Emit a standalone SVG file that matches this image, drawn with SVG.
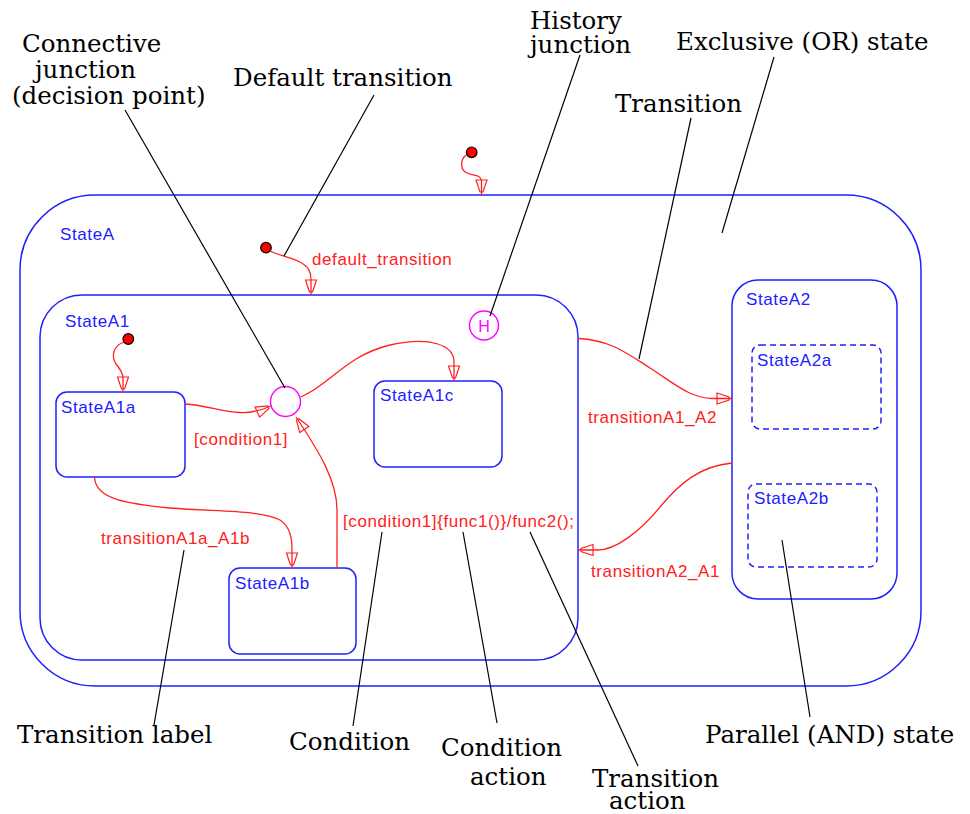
<svg xmlns="http://www.w3.org/2000/svg" width="970" height="814" viewBox="0 0 970 814">
  <style>
    .state { fill: none; stroke: #2020ff; stroke-width: 1.5; }
    .dashed { stroke-dasharray: 6 4; }
    .sname { font-family: "Liberation Sans", Arial, sans-serif; font-size: 17px; letter-spacing: 0.6px; fill: #2020ff; }
    .tlabel { font-family: "Liberation Sans", Arial, sans-serif; font-size: 17px; letter-spacing: 0.6px; fill: #ff2020; }
    .trans { fill: none; stroke: #ff2020; stroke-width: 1.3; marker-end: url(#arrow); }
    .dot { fill: #ff0000; stroke: #000; stroke-width: 1.2; }
    .junction { fill: none; stroke: #ff00ff; stroke-width: 1.4; }
    .callout { font-family: "DejaVu Serif", "Liberation Serif", serif; font-size: 24.5px; fill: #000; }
    .leader { fill: none; stroke: #000; stroke-width: 1.2; }
  </style>
  <defs>
    <!-- hollow Stateflow-style arrowhead, tip sits a few px before the path end -->
    <marker id="arrow" markerUnits="userSpaceOnUse" markerWidth="18" markerHeight="14" refX="16" refY="6" orient="auto" viewBox="0 0 18 12">
      <path d="M1,0.5 L13,4.5 L13,7.5 L1,11.5 Z" fill="none" stroke="#ff2020" stroke-width="1.2"/>
    </marker>
  </defs>

  <rect width="970" height="814" fill="#fff"/>

  <!-- states -->
  <g id="StateA">
    <rect class="state" x="20" y="195" width="901" height="491" rx="75" ry="75"/>
    <text class="sname" x="60" y="240">StateA</text>
  </g>
  <g id="StateA1">
    <rect class="state" x="40" y="295" width="538" height="365" rx="42" ry="42"/>
    <text class="sname" x="65" y="327">StateA1</text>
  </g>
  <g id="StateA1a">
    <rect class="state" x="56" y="392" width="129" height="85" rx="11" ry="11"/>
    <text class="sname" x="61" y="413">StateA1a</text>
  </g>
  <g id="StateA1b">
    <rect class="state" x="229" y="568" width="127" height="86" rx="11" ry="11"/>
    <text class="sname" x="235" y="589">StateA1b</text>
  </g>
  <g id="StateA1c">
    <rect class="state" x="374" y="381" width="128" height="86" rx="11" ry="11"/>
    <text class="sname" x="380" y="401">StateA1c</text>
  </g>
  <g id="StateA2">
    <rect class="state" x="732" y="280" width="165" height="319" rx="26" ry="26"/>
    <text class="sname" x="746" y="305">StateA2</text>
  </g>
  <g id="StateA2a">
    <rect class="state dashed" x="752" y="345" width="129" height="84" rx="8" ry="8"/>
    <text class="sname" x="757" y="366">StateA2a</text>
  </g>
  <g id="StateA2b">
    <rect class="state dashed" x="748" y="484" width="129" height="83" rx="8" ry="8"/>
    <text class="sname" x="754" y="504">StateA2b</text>
  </g>

  <!-- junctions -->
  <g id="ConnectiveJunction">
    <circle class="junction" cx="285.5" cy="401.5" r="15"/>
  </g>
  <g id="HistoryJunction">
    <circle class="junction" cx="484" cy="325.5" r="14.5"/>
    <text x="484" y="331.5" text-anchor="middle" font-family="Liberation Sans, Arial, sans-serif" font-size="16" fill="#ff00ff">H</text>
  </g>

  <!-- default transition sources -->
  <g id="DefaultDots">
    <circle class="dot" cx="471.7" cy="152.3" r="5.3"/>
    <circle class="dot" cx="266" cy="247.7" r="5.3"/>
    <circle class="dot" cx="128.3" cy="339" r="5.3"/>
  </g>

  <!-- transitions -->
  <g id="connectors">
    <path class="trans" d="M466,155 C460,160 460,170 467,173 C472,176 481,174 481.5,181 L481.5,195"/>
    <path class="trans" d="M270,251 C278,255 290,257 300,262 C309,267 311,272 311,280 L311,295"/>
    <path class="trans" d="M124,342 C113,346 111,356 116,364 C121,370 123,374 123,378 L123,392"/>
    <path class="trans" d="M185,404 C205,405 222,412 240,412.5 C252,413 262,410 271,406"/>
    <path class="trans" d="M301,397 C330,385 345,356 390,345 C430,336 454,345 454,362 L454,381"/>
    <path class="trans" d="M337,568 L337,510 C337,480 318,450 296,417"/>
    <path class="trans" d="M94.5,477 C95,500 130,504 170,508 C220,512 260,510 280,520 C291,527 292,540 292,550 L292,568"/>
    <path class="trans" d="M578,338.5 C610,340 625,352 650,368 C675,384 690,398 712,398.5 L732,398.5"/>
    <path class="trans" d="M732,463 C700,466 680,483 660,507 C640,532 615,550 598,550 L578,550"/>
  </g>

  <!-- transition labels -->
  <g id="TransitionLabels">
    <text class="tlabel" x="312" y="265">default_transition</text>
    <text class="tlabel" x="194" y="445">[condition1]</text>
    <text class="tlabel" x="101" y="544">transitionA1a_A1b</text>
    <text class="tlabel" x="343" y="527">[condition1]{func1()}/func2();</text>
    <text class="tlabel" x="588" y="423">transitionA1_A2</text>
    <text class="tlabel" x="591" y="577">transitionA2_A1</text>
  </g>

  <!-- annotation leaders -->
  <g id="leaders">
    <line class="leader" x1="125" y1="110" x2="285" y2="388"/>
    <line class="leader" x1="374" y1="95" x2="284" y2="256"/>
    <line class="leader" x1="580" y1="55" x2="490" y2="316"/>
    <line class="leader" x1="774" y1="57" x2="722" y2="233"/>
    <line class="leader" x1="691" y1="118" x2="639" y2="359"/>
    <line class="leader" x1="184" y1="550" x2="154" y2="725"/>
    <line class="leader" x1="382" y1="532" x2="353" y2="726"/>
    <line class="leader" x1="463" y1="532" x2="497" y2="723"/>
    <line class="leader" x1="530" y1="532" x2="638" y2="766"/>
    <line class="leader" x1="782" y1="540" x2="810" y2="717"/>
  </g>

  <!-- annotation texts -->
  <g id="annotations">
    <text class="callout" x="22" y="52">Connective</text>
    <text class="callout" x="35" y="78">junction</text>
    <text class="callout" x="12" y="104">(decision point)</text>
    <text class="callout" x="233" y="86">Default transition</text>
    <text class="callout" x="530" y="29">History</text>
    <text class="callout" x="530" y="53">junction</text>
    <text class="callout" x="676" y="50">Exclusive (OR) state</text>
    <text class="callout" x="615" y="112">Transition</text>
    <text class="callout" x="17" y="743">Transition label</text>
    <text class="callout" x="289" y="750">Condition</text>
    <text class="callout" x="441" y="756">Condition</text>
    <text class="callout" x="470" y="785">action</text>
    <text class="callout" x="592" y="787">Transition</text>
    <text class="callout" x="609" y="809">action</text>
    <text class="callout" x="705" y="743">Parallel (AND) state</text>
  </g>
</svg>
